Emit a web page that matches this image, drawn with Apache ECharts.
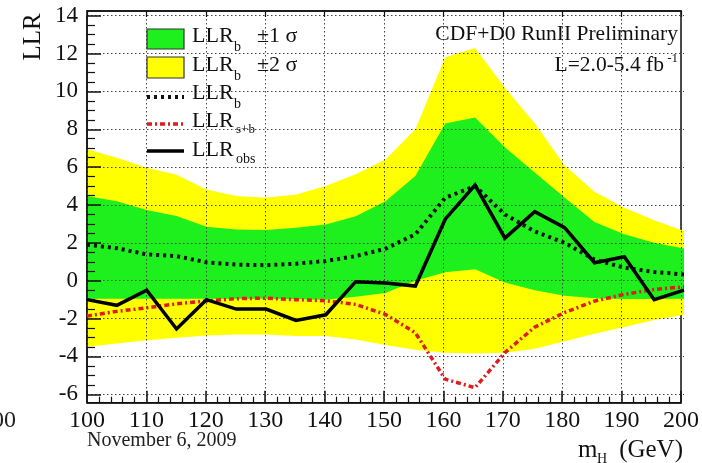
<!DOCTYPE html>
<html>
<head>
<meta charset="utf-8">
<script src="https://cdn.jsdelivr.net/npm/echarts@6/dist/echarts.min.js"></script>
<style>
html,body{margin:0;padding:0;background:#fff;}
#chart{width:702px;height:463px;}
</style>
</head>
<body>
<div id="chart"></div>
<script>
// ---- data ----
const mass = [100,105,110,115,120,125,130,135,140,145,150,155,160,165,170,175,180,185,190,195,200];
const llrObs = [-1.0,-1.3,-0.5,-2.55,-1.0,-1.5,-1.5,-2.1,-1.8,-0.05,-0.12,-0.28,3.25,5.05,2.25,3.65,2.8,0.95,1.27,-1.0,-0.5];
const llrB   = [1.9,1.72,1.39,1.3,0.97,0.85,0.82,0.9,1.04,1.3,1.69,2.45,4.38,5.0,3.5,2.6,2.0,1.12,0.69,0.46,0.33];
const llrSB  = [-1.87,-1.62,-1.43,-1.22,-1.07,-0.95,-0.92,-1.0,-1.06,-1.25,-1.78,-2.75,-5.2,-5.65,-3.8,-2.45,-1.68,-1.08,-0.72,-0.46,-0.32];
const sig1Up = [4.47,4.2,3.74,3.42,2.85,2.71,2.68,2.8,2.97,3.41,4.2,5.53,8.3,8.62,7.05,5.72,4.4,3.1,2.45,2.0,1.7];
const sig1Lo = [-0.95,-0.95,-0.95,-0.95,-0.95,-0.95,-0.95,-0.97,-1.0,-0.85,-0.65,0.0,0.45,0.6,-0.1,-0.5,-0.8,-0.93,-0.97,-0.97,-0.95];
const sig2Up = [6.94,6.5,5.97,5.6,4.82,4.47,4.38,4.56,5.0,5.62,6.41,8.0,11.8,12.3,10.2,8.3,6.1,4.7,3.85,3.2,2.62];
const sig2Lo = [-3.49,-3.31,-3.14,-3.01,-2.89,-2.84,-2.84,-2.92,-2.92,-3.1,-3.4,-3.65,-3.8,-3.85,-3.8,-3.6,-3.2,-2.8,-2.45,-2.08,-1.8];
const xTicks = [100,110,120,130,140,150,160,170,180,190,200];
const yTicks = [-6,-4,-2,0,2,4,6,8,10,12,14];

// ---- build series data ----
const pairs = (arr) => mass.map((m, i) => [m, arr[i]]);
const bandData = (lo, up) => mass.map((m, i) => [m, lo[i], up[i]]);

const SERIF = '"Liberation Serif","DejaVu Serif",serif';
const gridDot = { color: '#444', width: 1, type: [1.5, 2.5] };

function bandRenderer(lo, up, color) {
  return function (params, api) {
    if (params.dataIndex !== 0) return null;
    const pts = [];
    for (let i = 0; i < mass.length; i++) pts.push(api.coord([mass[i], up[i]]));
    for (let i = mass.length - 1; i >= 0; i--) pts.push(api.coord([mass[i], lo[i]]));
    return { type: 'polygon', shape: { points: pts }, style: { fill: color, stroke: null } };
  };
}

const chart = echarts.init(document.getElementById('chart'), null, { renderer: 'canvas' });

const option = {
  animation: false,
  backgroundColor: '#fff',
  grid: [
    { left: 87, right: 18, top: 15.7, bottom: 68.7, show: false },
    { left: 87, right: 18, top: 11, bottom: 60.3, show: true, borderColor: '#111', borderWidth: 1.5, backgroundColor: 'transparent' }
  ],
  xAxis: [
    { gridIndex: 0, type: 'value', min: xTicks[0], max: xTicks[xTicks.length-1], show: false },
    { gridIndex: 1, type: 'value', position: 'bottom', min: xTicks[0], max: xTicks[xTicks.length-1], interval: 10, z: 3,
      axisLine: { show: true, onZero: false, lineStyle: { color: '#111', width: 1.5 } },
      axisTick: { show: true, inside: true, length: 12, lineStyle: { color: '#111', width: 1.5 } },
      minorTick: { show: true, splitNumber: 5, length: 6, lineStyle: { color: '#111', width: 1.2 } },
      splitLine: { show: true, lineStyle: gridDot },
      axisLabel: { show: true, fontFamily: SERIF, fontSize: 24, color: '#111', margin: 6 } },
    { gridIndex: 1, type: 'value', position: 'top', min: xTicks[0], max: xTicks[xTicks.length-1], interval: 10, z: 3,
      axisLine: { show: true, onZero: false, lineStyle: { color: '#111', width: 1.5 } },
      axisTick: { show: true, inside: true, length: 6, lineStyle: { color: '#111', width: 1.2 } },
      splitLine: { show: false }, axisLabel: { show: false } }
  ],
  yAxis: [
    { gridIndex: 0, type: 'value', position: 'left', min: yTicks[0], max: yTicks[yTicks.length-1], interval: 2, z: 3,
      axisLine: { show: true, onZero: false, lineStyle: { color: '#111', width: 1.5 } },
      axisTick: { show: true, inside: true, length: 14, lineStyle: { color: '#111', width: 1.5 } },
      minorTick: { show: true, splitNumber: 4, length: 8, lineStyle: { color: '#111', width: 1.2 } },
      splitLine: { show: true, lineStyle: gridDot },
      axisLabel: { show: true, fontFamily: SERIF, fontSize: 23, color: '#111', margin: 9 } },
    { gridIndex: 1, type: 'value', min: -6.45, max: 14.25, show: false }
  ],
  series: [
    { name: 'band2', type: 'custom', xAxisIndex: 0, yAxisIndex: 0, data: bandData(sig2Lo, sig2Up),
      renderItem: bandRenderer(sig2Lo, sig2Up, '#ffff00'), z: 1, silent: true, clip: false },
    { name: 'band1', type: 'custom', xAxisIndex: 0, yAxisIndex: 0, data: bandData(sig1Lo, sig1Up),
      renderItem: bandRenderer(sig1Lo, sig1Up, '#1ef01e'), z: 2, silent: true, clip: false },
    { name: 'LLRb', type: 'line', xAxisIndex: 0, yAxisIndex: 0, data: pairs(llrB), symbol: 'none',
      lineStyle: { color: '#111', width: 4, type: [3, 4], cap: 'butt' }, z: 5 },
    { name: 'LLRsb', type: 'line', xAxisIndex: 0, yAxisIndex: 0, data: pairs(llrSB), symbol: 'none',
      lineStyle: { color: '#dd1c1c', width: 3.5, type: [5, 3, 2, 3], cap: 'butt' }, z: 5 },
    { name: 'LLRobs', type: 'line', xAxisIndex: 0, yAxisIndex: 0, data: pairs(llrObs), symbol: 'none',
      lineStyle: { color: '#000', width: 3.5, join: 'miter' }, z: 6 }
  ],
  graphic: [
    // legend boxes
    { type: 'rect', shape: { x: 147, y: 29, width: 37, height: 20 }, style: { fill: '#1ef01e', stroke: '#333', lineWidth: 1.2 }, z: 10 },
    { type: 'rect', shape: { x: 147, y: 57, width: 37, height: 21 }, style: { fill: '#ffff00', stroke: '#333', lineWidth: 1.2 }, z: 10 },
    { type: 'line', shape: { x1: 147, y1: 97, x2: 184, y2: 97 }, style: { stroke: '#111', lineWidth: 4, lineDash: [3, 4] }, z: 10 },
    { type: 'line', shape: { x1: 147, y1: 124, x2: 184, y2: 124 }, style: { stroke: '#dd1c1c', lineWidth: 3.5, lineDash: [5, 3, 2, 3] }, z: 10 },
    { type: 'line', shape: { x1: 147, y1: 151, x2: 184, y2: 151 }, style: { stroke: '#000', lineWidth: 3.5 }, z: 10 },
    // legend texts
    { type: 'text', x: 192, y: 36, style: { text: 'LLR', font: '22px ' + SERIF, fill: '#111', verticalAlign: 'middle' }, z: 10 },
    { type: 'text', x: 234, y: 47, style: { text: 'b', font: '14px ' + SERIF, fill: '#111', verticalAlign: 'middle' }, z: 10 },
    { type: 'text', x: 257, y: 36, style: { text: '±1 σ', font: '22px ' + SERIF, fill: '#111', verticalAlign: 'middle' }, z: 10 },
    { type: 'text', x: 192, y: 65, style: { text: 'LLR', font: '22px ' + SERIF, fill: '#111', verticalAlign: 'middle' }, z: 10 },
    { type: 'text', x: 234, y: 76, style: { text: 'b', font: '14px ' + SERIF, fill: '#111', verticalAlign: 'middle' }, z: 10 },
    { type: 'text', x: 257, y: 65, style: { text: '±2 σ', font: '22px ' + SERIF, fill: '#111', verticalAlign: 'middle' }, z: 10 },
    { type: 'text', x: 192, y: 93, style: { text: 'LLR', font: '22px ' + SERIF, fill: '#111', verticalAlign: 'middle' }, z: 10 },
    { type: 'text', x: 234, y: 104, style: { text: 'b', font: '14px ' + SERIF, fill: '#111', verticalAlign: 'middle' }, z: 10 },
    { type: 'text', x: 192, y: 121, style: { text: 'LLR', font: '22px ' + SERIF, fill: '#111', verticalAlign: 'middle' }, z: 10 },
    { type: 'text', x: 236, y: 130, style: { text: 's+b', font: '13px ' + SERIF, fill: '#111', verticalAlign: 'middle' }, z: 10 },
    { type: 'text', x: 192, y: 150, style: { text: 'LLR', font: '22px ' + SERIF, fill: '#111', verticalAlign: 'middle' }, z: 10 },
    { type: 'text', x: 236, y: 159, style: { text: 'obs', font: '14px ' + SERIF, fill: '#111', verticalAlign: 'middle' }, z: 10 },
    // top right annotations
    { type: 'text', x: 678, y: 34, style: { text: 'CDF+D0 RunII Preliminary', font: '21.5px ' + SERIF, fill: '#111', align: 'right', verticalAlign: 'middle' }, z: 10 },
    { type: 'text', x: 664, y: 65, style: { text: 'L=2.0-5.4 fb', font: '21.5px ' + SERIF, fill: '#111', align: 'right', verticalAlign: 'middle' }, z: 10 },
    { type: 'text', x: 678, y: 59, style: { text: '-1', font: '13px ' + SERIF, fill: '#111', align: 'right', verticalAlign: 'middle' }, z: 10 },
    // axis titles
    { type: 'text', x: 33, y: 37, rotation: Math.PI / 2, style: { text: 'LLR', font: '25px ' + SERIF, fill: '#111', align: 'center', verticalAlign: 'middle' }, z: 10 },
    { type: 'text', x: 578, y: 450, style: { text: 'm', font: '25px ' + SERIF, fill: '#111', verticalAlign: 'middle' }, z: 10 },
    { type: 'text', x: 597, y: 459, style: { text: 'H', font: '14px ' + SERIF, fill: '#111', verticalAlign: 'middle' }, z: 10 },
    { type: 'text', x: 683, y: 450, style: { text: '(GeV)', font: '25px ' + SERIF, fill: '#111', align: 'right', verticalAlign: 'middle' }, z: 10 },
    { type: 'text', x: 87, y: 441, style: { text: 'November 6, 2009', font: '20px ' + SERIF, fill: '#222', verticalAlign: 'middle' }, z: 10 },
    { type: 'text', x: 16, y: 421, style: { text: '00', font: '24px ' + SERIF, fill: '#222', align: 'right', verticalAlign: 'middle' }, z: 10 }
  ]
};
chart.setOption(option);
</script>
</body>
</html>
